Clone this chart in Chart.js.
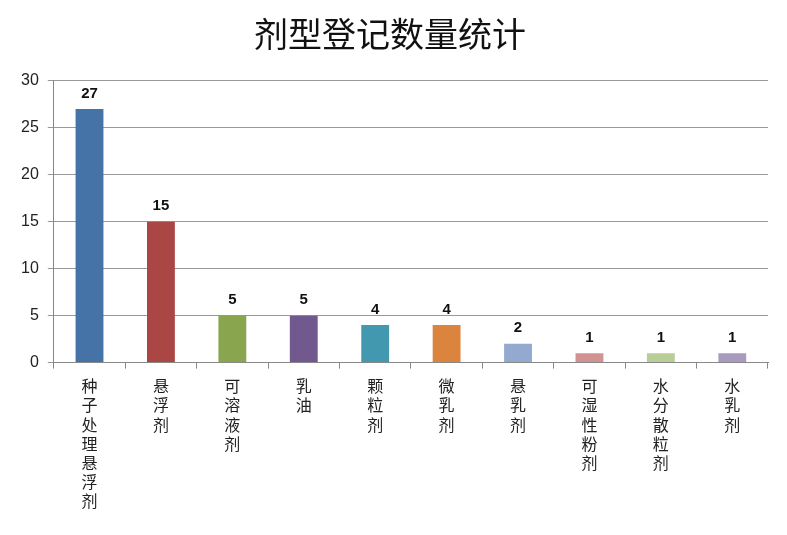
<!DOCTYPE html>
<html><head><meta charset="utf-8">
<script src="https://cdn.jsdelivr.net/npm/chart.js@4/dist/chart.umd.min.js"></script>
<style>html,body{margin:0;padding:0;background:#fff}#wrap{width:787px;height:535px}</style>
</head><body><div id="wrap"><canvas id="c" width="787" height="535"></canvas></div>
<script>
const categories = ['种子处理悬浮剂','悬浮剂','可溶液剂','乳油','颗粒剂','微乳剂','悬乳剂','可湿性粉剂','水分散粒剂','水乳剂'];
const counts = [27, 15, 5, 5, 4, 4, 2, 1, 1, 1];
const barColors = ['#4572A7','#AA4643','#89A54E','#71588F','#4198AF','#DB843D','#93A9CF','#D19392','#B9CD96','#A99BBD'];
const yTicks = [0, 5, 10, 15, 20, 25, 30];
const titleText = '剂型登记数量统计';

const valueLabels = {
  id: 'valueLabels',
  afterDatasetsDraw(chart) {
    const ctx = chart.ctx;
    const meta = chart.getDatasetMeta(0);
    ctx.save();
    ctx.font = 'bold 15px "Liberation Sans", sans-serif';
    ctx.fillStyle = '#111';
    ctx.textAlign = 'center';
    ctx.textBaseline = 'bottom';
    meta.data.forEach((bar, i) => {
      ctx.fillText(String(counts[i]), bar.x, bar.y - 8);
    });
    ctx.restore();
  }
};

new Chart(document.getElementById('c'), {
  type: 'bar',
  data: {
    labels: categories.map(s => Array.from(s)),
    datasets: [{ data: counts, backgroundColor: barColors, borderWidth: 0,
      categoryPercentage: 1.0, barPercentage: 0.39 }]
  },
  options: {
    responsive: false,
    animation: false,
    devicePixelRatio: 1,
    layout: { padding: { left: 12, right: 19, top: 0, bottom: 16 } },
    plugins: {
      legend: { display: false },
      tooltip: { enabled: false },
      title: { display: true, text: titleText, color: '#111',
        font: { family: '"Noto Sans CJK SC", sans-serif', size: 34, weight: 'normal', lineHeight: 1.2 },
        padding: { top: 14, bottom: 26 } }
    },
    scales: {
      x: {
        grid: { display: true, drawOnChartArea: false, drawTicks: true, tickLength: 6, color: '#888', offset: true },
        border: { color: '#888' },
        ticks: { color: '#222', maxRotation: 0, minRotation: 0, autoSkip: false, padding: 8,
          font: { family: '"Noto Sans CJK SC", sans-serif', size: 16, lineHeight: 1.2 } }
      },
      y: {
        min: 0, max: 30,
        afterBuildTicks(scale) { scale.ticks = yTicks.map(v => ({ value: v })); },
        grid: { color: '#999', tickLength: 6 },
        border: { color: '#888' },
        ticks: { color: '#222', padding: 9,
          font: { family: '"Liberation Sans", sans-serif', size: 16 } }
      }
    }
  },
  plugins: [valueLabels]
});
</script></body></html>
